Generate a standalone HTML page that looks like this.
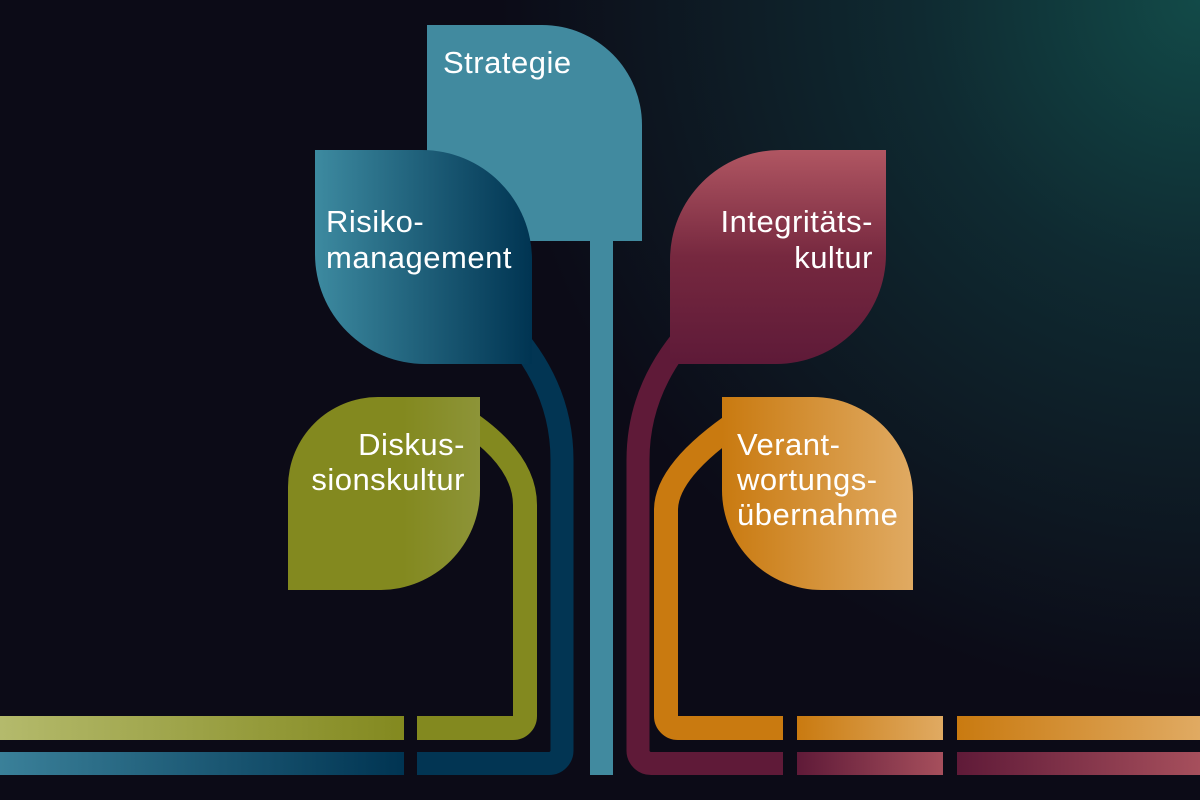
<!DOCTYPE html>
<html><head><meta charset="utf-8"><style>
html,body{margin:0;padding:0;background:#0c0b17;}
svg{display:block}
text{font-family:"Liberation Sans",sans-serif;font-size:31px;fill:#fff;letter-spacing:0.5px;}
</style></head><body>
<svg width="1200" height="800" viewBox="0 0 1200 800" xmlns="http://www.w3.org/2000/svg">
<defs>
<radialGradient id="bg" cx="1200" cy="0" r="700" gradientUnits="userSpaceOnUse">
<stop offset="0" stop-color="#124a48"/><stop offset="0.4" stop-color="#0f2a31"/><stop offset="1" stop-color="#0c0b17"/></radialGradient>
<linearGradient id="risk" x1="0" x2="1"><stop offset="0" stop-color="#3d8aa0"/><stop offset="1" stop-color="#003452"/></linearGradient>
<linearGradient id="olive" x1="0" x2="1"><stop offset="0" stop-color="#83891f"/><stop offset="0.6" stop-color="#83891f"/><stop offset="1" stop-color="#8d9438"/></linearGradient>
<linearGradient id="oliveBar" x1="0" x2="1"><stop offset="0" stop-color="#b4ba6c"/><stop offset="1" stop-color="#83891f"/></linearGradient>
<linearGradient id="blueBar" x1="0" x2="1"><stop offset="0" stop-color="#3a8099"/><stop offset="1" stop-color="#003452"/></linearGradient>
<linearGradient id="integ" x1="0" y1="0" x2="0" y2="1"><stop offset="0" stop-color="#b05662"/><stop offset="0.5" stop-color="#76283f"/><stop offset="1" stop-color="#5e1a38"/></linearGradient>
<linearGradient id="orange" x1="0" x2="1"><stop offset="0" stop-color="#c97a10"/><stop offset="1" stop-color="#e0aa62"/></linearGradient>
<linearGradient id="redBar" x1="0" x2="1"><stop offset="0" stop-color="#5f1a38"/><stop offset="1" stop-color="#a64f5c"/></linearGradient>
</defs>
<rect width="1200" height="800" fill="url(#bg)"/>

<rect x="590" y="235" width="23" height="540" fill="#418a9f"/>
<path d="M427,25 H542 A100,100 0 0 1 642,125 V241 H427 Z" fill="#418a9f"/>

<path d="M505,325 Q562,385 562,460 V750 A13,13 0 0 1 549,763.5 H417" fill="none" stroke="#023553" stroke-width="23"/>
<rect x="0" y="752" width="404" height="23" fill="url(#blueBar)"/>
<path d="M315,150 H422 A110,110 0 0 1 532,260 V364 H425 A110,110 0 0 1 315,254 Z" fill="url(#risk)"/>

<path d="M465,420 Q525,460 525,505 V716 A12,12 0 0 1 513,728 H417" fill="none" stroke="#83891f" stroke-width="24"/>
<rect x="0" y="716" width="404" height="24" fill="url(#oliveBar)"/>
<path d="M378,397 H480 V490 A100,100 0 0 1 380,590 H288 V487 A90,90 0 0 1 378,397 Z" fill="url(#olive)"/>

<path d="M695,325 Q638,385 638,460 V750 A13,13 0 0 0 651,763.5 H783" fill="none" stroke="#5f1a38" stroke-width="23"/>
<rect x="797" y="752" width="146" height="23" fill="url(#redBar)"/>
<rect x="957" y="752" width="243" height="23" fill="url(#redBar)"/>
<path d="M780,150 H886 V254 A110,110 0 0 1 776,364 H670 V260 A110,110 0 0 1 780,150 Z" fill="url(#integ)"/>

<path d="M740,420 Q666,470 666,510 V716 A12,12 0 0 0 678,728 H783" fill="none" stroke="#c97a10" stroke-width="24"/>
<rect x="797" y="716" width="146" height="24" fill="url(#orange)"/>
<rect x="957" y="716" width="243" height="24" fill="url(#orange)"/>
<path d="M722,397 H813 A100,100 0 0 1 913,497 V590 H822 A100,100 0 0 1 722,490 Z" fill="url(#orange)"/>

<text x="443" y="73">Strategie</text>
<text x="326" y="232">Risiko-</text>
<text x="326" y="268">management</text>
<text x="465" y="455" text-anchor="end">Diskus-</text>
<text x="465" y="490" text-anchor="end">sionskultur</text>
<text x="873" y="232" text-anchor="end">Integritäts-</text>
<text x="873" y="268" text-anchor="end">kultur</text>
<text x="737" y="455">Verant-</text>
<text x="737" y="490">wortungs-</text>
<text x="737" y="525">übernahme</text>
</svg>
</body></html>
